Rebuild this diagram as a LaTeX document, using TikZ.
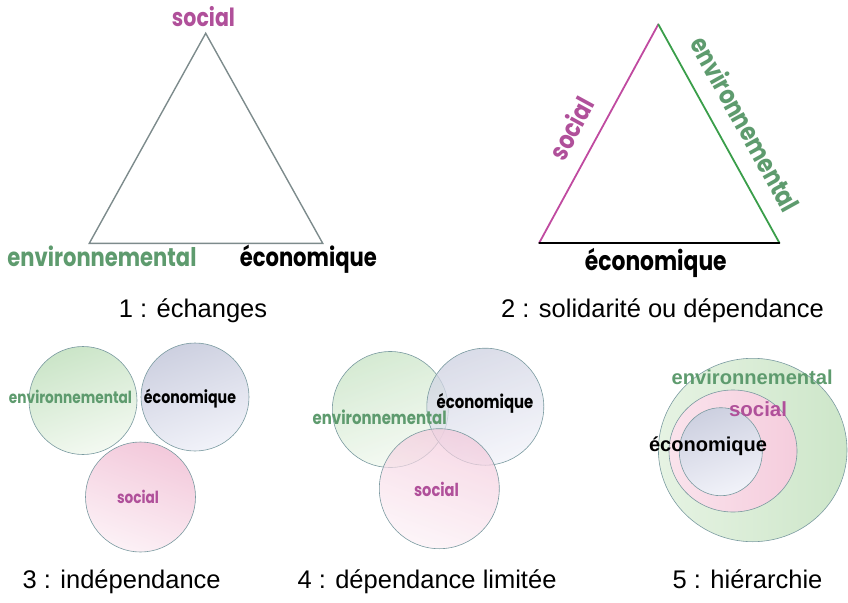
\documentclass[tikz,border=0pt]{standalone}
\usepackage{fontspec}
\setmainfont{Liberation Sans}
\newfontfamily\geo{Poppins}
\usepackage{graphicx}
\newcommand\fitw[2]{\resizebox{#1pt}{!}{#2}}
\newcommand\geow[2]{\scalebox{1}[1.22]{\resizebox{#1pt}{!}{\geo\bfseries #2}}}
\definecolor{labmag}{HTML}{B0509A}
\definecolor{labgreen}{HTML}{5E9B6E}
\definecolor{trigray}{HTML}{7D8B8C}
\definecolor{linemag}{HTML}{C04AA0}
\definecolor{linegreen}{HTML}{3A9E4A}
\definecolor{rim}{HTML}{7A9AA0}
\definecolor{cgA}{HTML}{CBE5C8}
\definecolor{cgB}{HTML}{F3F9F1}
\definecolor{cbA}{HTML}{CDD0E0}
\definecolor{cbB}{HTML}{F1F2F9}
\definecolor{cpA}{HTML}{F3C9DB}
\definecolor{cpB}{HTML}{FCF1F6}
\definecolor{ogA}{HTML}{E6F3E3}
\definecolor{ogB}{HTML}{CDE6C9}
\definecolor{rpA}{HTML}{FAE3EC}
\definecolor{rpB}{HTML}{F5CDDD}
\tikzset{
  caption/.style={font=\fontsize{25.5}{28}\selectfont, anchor=base, inner sep=0pt},
  lab/.style={anchor=base, inner sep=0pt},
  rimline/.style={draw=rim, line width=0.6pt},
  gcirc/.style={rimline, top color=cgA, bottom color=cgB, shading angle=20},
  bcirc/.style={rimline, top color=cbA, bottom color=cbB, shading angle=20},
  pcirc/.style={rimline, top color=cpA, bottom color=cpB, shading angle=-20},
}
\begin{document}
\begin{tikzpicture}[x=1pt,y=-1pt]
\useasboundingbox (0,0) rectangle (848,602);
% ---------- panel 1 ----------
\coordinate (a1) at (205.7,33.3);
\coordinate (b1) at (89.3,243.3);
\coordinate (c1) at (322.7,243.3);
\draw[trigray, line width=1.4pt, line join=miter] (a1) -- (b1) -- (c1) -- cycle;
\node[lab, text=labmag] (s1) at (203.5,27) {\geow{63}{social}};
\node[lab, text=labgreen] (e1) at (102,266.5) {\geow{189}{environnemental}};
\node[lab, text=black] (o1) at (308.3,266.5) {\geow{137}{économique}};
\node[caption] (cap1) at (193,317) {1 : échanges};
% ---------- panel 2 ----------
\coordinate (a2) at (658.3,24.3);
\coordinate (b2) at (539.3,242.7);
\coordinate (c2) at (779.3,242.7);
\draw[linemag, line width=1.8pt, line cap=round] (b2) -- (a2);
\draw[linegreen, line width=1.8pt, line cap=round] (a2) -- (c2);
\draw[black, line width=2.2pt, line cap=round] (b2) -- (c2);
\node[inner sep=0pt, text=labmag, rotate=61.4] (s2) at (571,128.3) {\geow{66}{social}};
\node[inner sep=0pt, text=labgreen, rotate=-61] (e2) at (745.8,124) {\geow{195}{environnemental}};
\node[lab, text=black] (o2) at (655.8,270) {\geow{141.7}{économique}};
\node[caption] (cap2) at (662.5,317) {2 : solidarité ou dépendance};
% ---------- panel 3 ----------
\path[gcirc] (83,400.5) circle[radius=54];
\path[bcirc] (195,397) circle[radius=54];
\path[pcirc] (140.5,497) circle[radius=55];
\node[lab, text=labgreen] (e3) at (70.5,403.5) {\geow{123}{environnemental}};
\node[lab, text=black] (o3) at (190,403.5) {\geow{92}{économique}};
\node[lab, text=labmag] (s3) at (138,503.5) {\geow{42}{social}};
\node[caption] (cap3) at (121.7,588) {3 : indépendance};
% ---------- panel 4 ----------
\path[gcirc, fill opacity=0.8] (390.3,409.5) circle[radius=58];
\path[bcirc, fill opacity=0.75] (485.3,406.7) circle[radius=58.5];
\path[pcirc, fill opacity=0.7] (439.3,488.7) circle[radius=60];
\node[lab, text=labgreen] (e4) at (379.7,424.5) {\geow{134}{environnemental}};
\node[lab, text=black] (o4) at (485,408) {\geow{96.6}{économique}};
\node[lab, text=labmag] (s4) at (436.5,496.5) {\geow{45}{social}};
\node[caption] (cap4) at (427,588) {4 : dépendance limitée};
% ---------- panel 5 ----------
\path[rimline, left color=ogA, right color=ogB] (752.7,450) ellipse[x radius=94.3, y radius=91.7];
\path[rimline, left color=rpA, right color=rpB] (733,451) ellipse[x radius=64, y radius=61];
\path[bcirc] (720.8,451.7) ellipse[x radius=41.5, y radius=44];
\node[lab, text=labgreen] (e5) at (752.2,384) {\fitw{161}{\bfseries environnemental}};
\node[lab, text=labmag] (s5) at (758,416) {\fitw{58}{\bfseries social}};
\node[lab, text=black] (o5) at (708,451.7) {\fitw{118}{\bfseries économique}};
\node[caption] (cap5) at (747.5,588) {5 : hiérarchie};
\end{tikzpicture}
\end{document}
